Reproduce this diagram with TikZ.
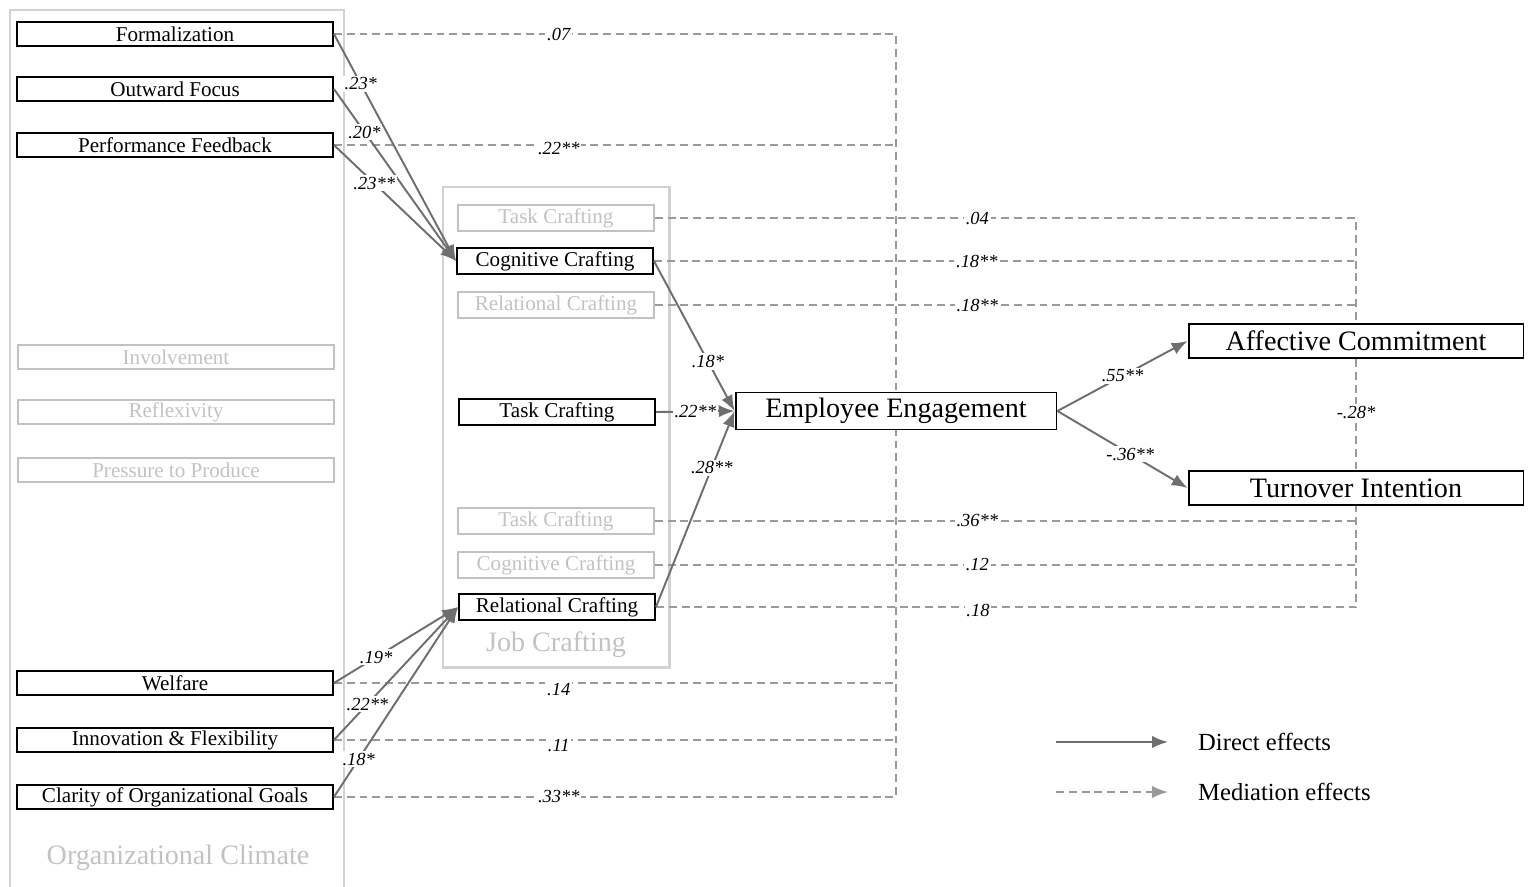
\documentclass[tikz,border=0pt]{standalone}
\usepackage{fontspec}
\setmainfont{Liberation Serif}
\usetikzlibrary{arrows.meta}

\definecolor{arrowgray}{HTML}{6E6E6E}
\definecolor{dashgray}{HTML}{9A9A9A}
\definecolor{fadegray}{HTML}{C2C2C2}
\definecolor{framegray}{HTML}{D2D2D2}

\begin{document}
\begin{tikzpicture}[x=0.02cm, y=-0.02cm,
    box/.style={draw, line width=1.1pt, inner sep=0pt, minimum height=0.48cm,
        font=\fontsize{12}{14}\selectfont},
    climbox/.style={box, minimum width=6.32cm},
    jcbox/.style={box, minimum width=3.92cm, minimum height=0.52cm},
    fade/.style={draw=fadegray, text=fadegray, line width=0.9pt},
    outcome/.style={draw, line width=1.1pt, inner sep=0pt, minimum width=6.7cm,
        minimum height=0.68cm, font=\fontsize{16}{19}\selectfont},
    frame/.style={draw=framegray, line width=1.7pt},
    direct/.style={draw=arrowgray, line width=1.1pt, -{Latex[length=9pt,width=7pt]}},
    medi/.style={draw=dashgray, line width=1.1pt, dash pattern=on 4.5pt off 2.8pt},
    coef/.style={fill=white, inner sep=1pt, font=\fontsize{10.5}{12}\selectfont\itshape},
]
    \useasboundingbox (0,0) rectangle (1528,886);

    % Draw group frames
    \draw[frame] (10,890) -- (10,10) -- (344,10) -- (344,890);
    \node[text=fadegray, font=\fontsize{16}{19}\selectfont] (octitle) at (178,858) {Organizational Climate};
    \draw[frame] (443,187) rectangle (669,667);
    \node[text=fadegray, font=\fontsize{16}{19}\selectfont] (jctitle) at (556,645) {Job Crafting};

    % Draw climate nodes
    \foreach \n/\y/\t in {form/34/Formalization, outw/89/Outward Focus,
        perf/145/Performance Feedback, welf/683/Welfare,
        inno/740/Innovation \& Flexibility, clar/797/Clarity of Organizational Goals} {
        \node[climbox] (\n) at (175,\y) {\t};
    }
    \foreach \n/\y/\t in {invo/357/Involvement, refl/412/Reflexivity, pres/470/Pressure to Produce} {
        \node[climbox, fade] (\n) at (176,\y) {\t};
    }

    % Draw job crafting nodes
    \node[jcbox, fade] (tcA) at (556,218) {Task Crafting};
    \node[jcbox] (cc) at (555,261) {Cognitive Crafting};
    \node[jcbox, fade] (rcA) at (556,305) {Relational Crafting};
    \node[jcbox] (tc) at (557,412) {Task Crafting};
    \node[jcbox, fade] (tcB) at (556,521) {Task Crafting};
    \node[jcbox, fade] (ccB) at (556,565) {Cognitive Crafting};
    \node[jcbox] (rc) at (557,607) {Relational Crafting};

    % Draw outcomes
    \node[outcome, minimum width=6.42cm, minimum height=0.74cm] (ee) at (896,411) {Employee Engagement};
    \node[outcome] (ac) at (1356,341) {Affective Commitment};
    \node[outcome] (ti) at (1356,488) {Turnover Intention};

    % Mediation paths
    \draw[medi] (form.east) -| node[coef, pos=0.2] {.07} (ee.north);
    \draw[medi] (perf.east) -- node[coef, pos=0.4, yshift=-2pt] {.22**} (perf.east -| ee.north);
    \draw[medi] (clar.east) -| node[coef, pos=0.2] {.33**} (ee.south);
    \draw[medi] (welf.east) -- node[coef, pos=0.4, yshift=-4pt] {.14} (welf.east -| ee.south);
    \draw[medi] (inno.east) -- node[coef, pos=0.4, yshift=-3pt] {.11} (inno.east -| ee.south);
    \draw[medi] (tcA.east) -| node[coef, pos=0.23] {.04} (ac.north);
    \draw[medi] (cc.east) -- node[coef, pos=0.46] {.18**} (cc.east -| ac.north);
    \draw[medi] (rcA.east) -- node[coef, pos=0.46] {.18**} (rcA.east -| ac.north);
    \draw[medi] (rc.east) -| node[coef, pos=0.23, yshift=-2pt] {.18} (ti.south);
    \draw[medi] (tcB.east) -- node[coef, pos=0.46] {.36**} (tcB.east -| ti.south);
    \draw[medi] (ccB.east) -- node[coef, pos=0.46] {.12} (ccB.east -| ti.south);
    \draw[medi] (ac.south) -- node[coef, pos=0.48] {-.28*} (ti.north);

    % Direct paths
    \foreach \n/\p/\c in {form/0.22/.23*, outw/0.25/.20*, perf/0.33/.23**} {
        \draw[direct] (\n.east) -- node[coef, pos=\p] {\c} (cc.west);
    }
    \foreach \n/\p/\c in {welf/0.34/.19*, inno/0.27/.22**, clar/0.2/.18*} {
        \draw[direct] (\n.east) -- node[coef, pos=\p] {\c} (rc.west);
    }
    \draw[direct] (cc.east) -- node[coef, pos=0.67] {.18*} (ee.west);
    \draw[direct] (tc.east) -- node[coef, pos=0.5] {.22**} (ee.west);
    \draw[direct] (rc.east) -- node[coef, pos=0.71] {.28**} (ee.west);
    \draw[direct] (ee.east) -- node[coef, pos=0.5] {.55**} (ac.west);
    \draw[direct] (ee.east) -- node[coef, pos=0.56] {-.36**} (ti.west);

    % Legend
    \coordinate (lgA) at (1056,742);
    \coordinate (lgB) at (1168,742);
    \coordinate (lgC) at (1056,792);
    \coordinate (lgD) at (1168,792);
    \draw[direct] (lgA) -- (lgB);
    \draw[medi, -{Latex[length=9pt,width=7pt]}] (lgC) -- (lgD);
    \node[anchor=west, font=\fontsize{14}{17}\selectfont] (lgdir) at (1192,742) {Direct effects};
    \node[anchor=west, font=\fontsize{14}{17}\selectfont] (lgmed) at (1192,792) {Mediation effects};
\end{tikzpicture}
\end{document}
